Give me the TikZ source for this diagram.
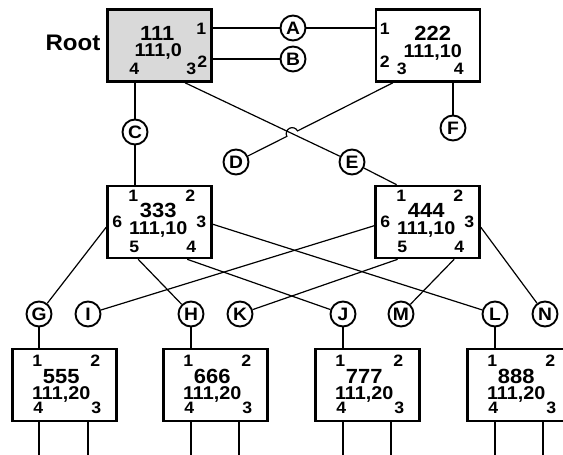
\documentclass[tikz,border=0pt]{standalone}
\usepackage{fontspec}
\setmainfont{Liberation Sans}[FakeStretch=1.07]
\usetikzlibrary{calc, intersections}
\definecolor{rootgray}{RGB}{217, 217, 217}

\begin{document}
\begin{tikzpicture}[x=1pt, y=-1pt]
  \tikzstyle{box} = [rectangle, draw, line width=2.6pt, minimum width=104pt, minimum height=72pt, inner sep=0pt]
  \tikzstyle{term} = [circle, draw, line width=1.9pt, minimum size=25pt, inner sep=0pt, font=\fontsize{18}{18}\selectfont\bfseries]
  \tikzstyle{portno} = [inner sep=0pt, font=\fontsize{16.5}{16.5}\selectfont\bfseries]
  \tikzstyle{idno} = [inner sep=0pt, font=\fontsize{20.5}{20.5}\selectfont\bfseries]
  \tikzstyle{addr} = [inner sep=0pt, font=\fontsize{18.5}{18.5}\selectfont\bfseries]
  \tikzstyle{wire} = [line width=1.2pt]

  \useasboundingbox (0,0) rectangle (563,455);

  % boxes
  \node[box, fill=rootgray] (root) at (159.5,45.5) {};
  \node[box] (b222) at (428,45.5) {};
  \node[box] (b333) at (159.5,222) {};
  \node[box] (b444) at (427.5,222) {};
  \foreach \n/\x in {555/64.5, 666/215.5, 777/367.5, 888/519.5}
    \node[box] (b\n) at (\x,385) {};

  \node[font=\fontsize{22.5}{22.5}\selectfont\bfseries] (rootlbl) at (73,43) {Root};

  % texts in the boxes
  \node[portno] (p1root) at ($(root.north west)+(95,21)$) {1};
  \node[idno] (id111) at ($(root.north west)+(51,25)$) {111};
  \node[addr] (ad111) at ($(root.north west)+(52,43)$) {111,0};
  \node[portno] (p2root) at ($(root.north west)+(96,54)$) {2};
  \node[portno] (p4root) at ($(root.north west)+(28,61)$) {4};
  \node[portno] (p3root) at ($(root.north west)+(85,61)$) {3};

  \node[portno] (p1222) at ($(b222.north west)+(10,21)$) {1};
  \node[idno] (id222) at ($(b222.north west)+(58,25)$) {222};
  \node[addr] (ad222) at ($(b222.north west)+(58,44)$) {111,10};
  \node[portno] (p2222) at ($(b222.north west)+(10,54)$) {2};
  \node[portno] (p3222) at ($(b222.north west)+(27,61)$) {3};
  \node[portno] (p4222) at ($(b222.north west)+(84,61)$) {4};

  \foreach \n in {333,444} {
    \node[portno] (p1\n) at ($(b\n.north west)+(27,11)$) {1};
    \node[portno] (p2\n) at ($(b\n.north west)+(84,11)$) {2};
    \node[idno] (id\n) at ($(b\n.north west)+(52,26)$) {\n};
    \node[portno] (p6\n) at ($(b\n.north west)+(11,37)$) {6};
    \node[addr] (ad\n) at ($(b\n.north west)+(52,45)$) {111,10};
    \node[portno] (p3\n) at ($(b\n.north west)+(95,37)$) {3};
    \node[portno] (p5\n) at ($(b\n.north west)+(28,62)$) {5};
    \node[portno] (p4\n) at ($(b\n.north west)+(85,62)$) {4};
  }

  \foreach \n in {555,666,777,888} {
    \node[portno] (p1\n) at ($(b\n.north west)+(26,13)$) {1};
    \node[portno] (p2\n) at ($(b\n.north west)+(84,13)$) {2};
    \node[idno] (id\n) at ($(b\n.north west)+(50,29)$) {\n};
    \node[addr] (ad\n) at ($(b\n.north west)+(50,47)$) {111,20};
    \node[portno] (p4\n) at ($(b\n.north west)+(27,60)$) {4};
    \node[portno] (p3\n) at ($(b\n.north west)+(85,60)$) {3};
  }

  % circles
  \foreach \t/\x/\y in {A/293/28, B/293/59, C/135/132, D/236/162, E/352/162, F/453/128,
      G/39/314, I/88/314, H/191/314, K/240/314, J/343/314, M/401/314, L/495/314, N/545/314}
    \node[term] (\t) at (\x,\y) {\t};

  % connectors
  \draw[wire] (root.east |- A) -- (A);
  \draw[wire] (A) -- (b222.west |- A);
  \draw[wire] (root.east |- B) -- (B);
  \draw[wire] (root.south -| C) -- (C);
  \draw[wire] (C) -- (b333.north -| C);
  \draw[wire] (b222.south -| F) -- (F);
  \draw[wire, name path=toE] ($(root.south west)!0.74!(root.south east)$) -- (E);
  \draw[wire] (E) -- ($(b444.north west)!0.21!(b444.north east)$);
  \coordinate (s222) at ($(b222.south west)!0.17!(b222.south east)$);
  \path[name path=toD] (s222) -- (D);
  \path[name intersections={of=toE and toD, by=hop}];
  \draw[wire] (s222) -- ($(hop)!6pt!(s222)$) arc[start angle=-27, end angle=-207, radius=6] -- (D);

  \draw[wire] ($(b333.north west)!0.57!(b333.south west)$) -- (G);
  \draw[wire] ($(b333.south west)!0.30!(b333.south east)$) -- (H);
  \draw[wire] ($(b333.south west)!0.76!(b333.south east)$) -- (J);
  \draw[wire] ($(b333.north east)!0.53!(b333.south east)$) -- (L);
  \draw[wire] ($(b444.north west)!0.55!(b444.south west)$) -- (I);
  \draw[wire] ($(b444.south west)!0.22!(b444.south east)$) -- (K);
  \draw[wire] ($(b444.south west)!0.75!(b444.south east)$) -- (M);
  \draw[wire] ($(b444.north east)!0.57!(b444.south east)$) -- (N);

  \foreach \n/\t in {555/G, 666/H, 777/J, 888/L} {
    \draw[wire] (\t) -- (b\n.north -| \t);
    \draw[wire] (b\n.south -| \t) -- ++(0,36);
    \draw[wire] ($(b\n.south west)!0.72!(b\n.south east)$) -- ++(0,36);
  }
\end{tikzpicture}
\end{document}
